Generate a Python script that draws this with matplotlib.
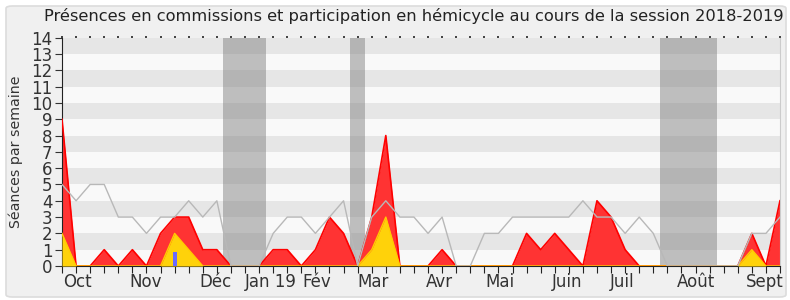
import matplotlib.pyplot as plt
import numpy as np
from matplotlib.patches import FancyBboxPatch

# weekly values, session 2018-2019 (week 0 = start of October)
weeks = np.arange(52)
commissions = [9, 0, 0, 1, 0, 1, 0, 2, 3, 3, 1, 1, 0, 0, 0, 1, 1, 0, 1, 3,
               2, 0, 3, 8, 0, 0, 0, 1, 0, 0, 0, 0, 0, 2, 1, 2, 1, 0, 4, 3,
               1, 0, 0, 0, 0, 0, 0, 0, 0, 2, 0, 4]
hemicycle = [2, 0, 0, 0, 0, 0, 0, 0, 2, 1, 0, 0, 0, 0, 0, 0, 0, 0, 0, 0,
             0, 0, 1, 3, 0, 0, 0, 0, 0, 0, 0, 0, 0, 0, 0, 0, 0, 0, 0, 0,
             0, 0, 0, 0, 0, 0, 0, 0, 0, 1, 0, 0]
median = [5, 4, 5, 5, 3, 3, 2, 3, 3, 4, 3, 4, 0, 0, 0, 2, 3, 3, 2, 3,
          4, 0, 3, 4, 3, 3, 2, 3, 0, 0, 2, 2, 3, 3, 3, 3, 3, 4, 3, 3,
          2, 3, 2, 0, 0, 0, 0, 0, 0, 2, 2, 3]
questions_week = [8]
questions_val = [0.85]

vacations = [(11.43, 14.49), (20.45, 21.5), (42.47, 46.5)]
month_pos = [1.1, 5.94, 10.9, 14.8, 18.1, 22.1, 26.8, 31.1, 35.9, 39.8, 45.0, 49.9]
month_labels = ['Oct', 'Nov', 'Déc', 'Jan 19', 'Fév', 'Mar', 'Avr', 'Mai',
                'Juin', 'Juil', 'Août', 'Sept']

fig = plt.figure(figsize=(7.9, 3.0), dpi=100, facecolor='white')
frame = FancyBboxPatch((6 / 790, 3 / 300), 780 / 790, 291 / 300,
                       boxstyle='round,pad=0,rounding_size=0.008',
                       transform=fig.transFigure, facecolor='#f0f0f0',
                       edgecolor='#dcdcdc', linewidth=1.2, zorder=-10)
fig.patches.append(frame)

ax = fig.add_axes([62 / 790, 1 - 266 / 300, 718 / 790, (266 - 37.7) / 300])
ax.set_facecolor('#f9f9f9')

for k in range(14):
    if k % 2 == 1:
        ax.axhspan(k, k + 1, color='#e6e6e6', lw=0, zorder=0)
for a, b in vacations:
    ax.axvspan(a, b, color='#777777', alpha=0.45, lw=0, zorder=1)

ax.fill_between(weeks, commissions, color='#ff3333', lw=0, zorder=2)
ax.plot(weeks, commissions, color='#ff0000', lw=1.2, zorder=3)
ax.fill_between(weeks, hemicycle, color='#ffd20a', lw=0, zorder=4)
ax.plot(weeks, hemicycle, color='#ffcc00', lw=1.0, zorder=5)
ax.plot(weeks, median, color='#b8b8b8', lw=1.0, zorder=6)
ax.bar(questions_week, questions_val, width=0.28, color='#6a6aff', zorder=7)

ax.set_xlim(0, 51)
ax.set_ylim(0, 14)
ax.set_yticks(range(15))
ax.tick_params(axis='y', labelsize=12, colors='#333333', length=5,
               labelcolor='#333333', pad=2)
ax.set_xticks(weeks)
ax.set_xticklabels([])
ax.tick_params(axis='x', length=5, colors='#222222', direction='out')
ax.xaxis.set_ticks_position('both')
for t in ax.xaxis.get_major_ticks():
    t.tick2line.set_markersize(1.2)
    t.tick2line.set_markeredgewidth(1.2)

for pos, lab in zip(month_pos, month_labels):
    ax.text(pos, -0.45, lab, ha='center', va='top', fontsize=12,
            color='#333333', transform=ax.transData)

ax.spines['top'].set_visible(False)
ax.spines['right'].set_color('#cccccc')
ax.spines['left'].set_color('#222222')
ax.spines['bottom'].set_color('#222222')

ax.set_ylabel('Séances par semaine', fontsize=10.2, color='#333333', labelpad=6)
fig.text(414 / 790, 1 - 16 / 300,
         'Présences en commissions et participation en hémicycle au cours de la session 2018-2019',
         ha='center', va='center', fontsize=11.7, color='#222222')

fig.savefig('out.png', dpi=100, facecolor=fig.get_facecolor())
